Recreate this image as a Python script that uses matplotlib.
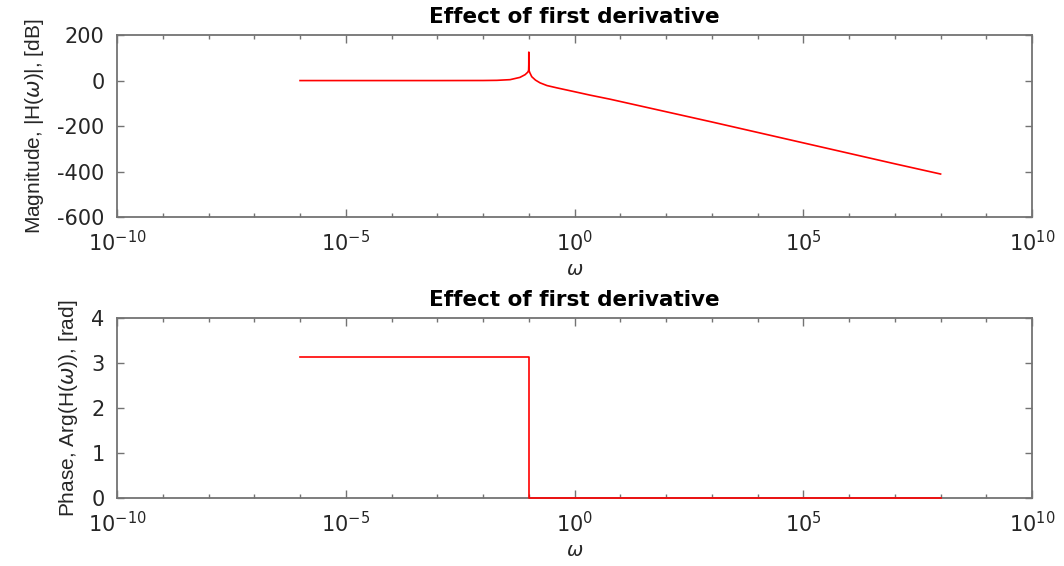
import matplotlib
matplotlib.use("Agg")
import matplotlib.pyplot as plt
import numpy as np

# ---- data ----
mag_omega = [1e-6, 1e-5, 1e-4, 1e-3, 1e-2, 0.02, 0.039, 0.064, 0.083,
             0.095, 0.099, 0.0998, 0.1, 0.1002, 0.101, 0.105, 0.116, 0.14,
             0.176, 0.25, 0.41, 1.0, 2.18, 6.0, 1e2, 1e3, 1e4,
             1e5, 1e6, 1e7, 1e8]
mag_db = [0, 0, 0, 0, 0.3, 1, 4, 14, 26,
          37, 45, 70, 125, 70, 45, 35, 17, 2,
          -10, -22, -32, -49, -64, -82, -137, -182, -228,
          -274, -320, -366, -411]

phase_omega = [1e-6, 0.1, 0.1, 1e8]
phase_rad = [3.1416, 3.1416, 0, 0]

title_text = "Effect of first derivative"
mag_ylabel = r"Magnitude, |H($\omega$)|, [dB]"
phase_ylabel = r"Phase, Arg(H($\omega$)), [rad]"
xlabel_text = r"$\omega$"

x_major = [1e-10, 1e-5, 1e0, 1e5, 1e10]
x_minor = [10.0 ** k for k in range(-10, 11)]
mag_yticks = [-600, -400, -200, 0, 200]
phase_yticks = [0, 1, 2, 3, 4]

# ---- style ----
plt.rcParams["font.family"] = ["DejaVu Sans"]
plt.rcParams["mathtext.fontset"] = "dejavusans"
plt.rcParams["axes.unicode_minus"] = False

axcol = "0.45"
txtcol = "0.15"

fig = plt.figure(figsize=(10.64, 5.66), dpi=100)
ax1 = fig.add_axes([0.110, 0.6166, 0.860, 0.3214])
ax2 = fig.add_axes([0.110, 0.1200, 0.860, 0.3180])


def style(ax, ylabel, yticks, ylim):
    ax.set_xscale("log")
    ax.set_xlim(1e-10, 1e10)
    ax.set_ylim(*ylim)
    ax.set_yticks(yticks)
    ax.set_xticks(x_major)
    ax.set_xticks(x_minor, minor=True)
    ax.set_xticklabels([], minor=True)
    for s in ax.spines.values():
        s.set_color(axcol)
        s.set_linewidth(1.3)
    ax.tick_params(axis="both", which="major", direction="in", top=True,
                   right=True, length=5, width=1.0, color=axcol,
                   labelsize=15, labelcolor=txtcol)
    ax.tick_params(axis="y", which="major", pad=9)
    ax.tick_params(axis="x", which="major", length=6, pad=9)
    ax.tick_params(axis="x", which="minor", direction="in", top=True,
                   length=3, width=1.0, color=axcol)
    ax.tick_params(axis="y", which="minor", left=False, right=False)
    ax.set_title(title_text, fontsize=15.5, fontweight="bold", color="black",
                 pad=9)
    ax.set_xlabel(xlabel_text, fontsize=14, color=txtcol, labelpad=4)
    ax.set_ylabel(ylabel, fontsize=15, color=txtcol, labelpad=8,
                  family=["Liberation Sans", "DejaVu Sans"])


ax1.plot(mag_omega, mag_db, color="red", linewidth=1.2)
style(ax1, mag_ylabel, mag_yticks, (-600, 200))

ax2.plot(phase_omega, phase_rad, color="red", linewidth=1.2,
         clip_on=False, zorder=5)
style(ax2, phase_ylabel, phase_yticks, (0, 4))

fig.savefig("out.png", dpi=100, facecolor="white")
